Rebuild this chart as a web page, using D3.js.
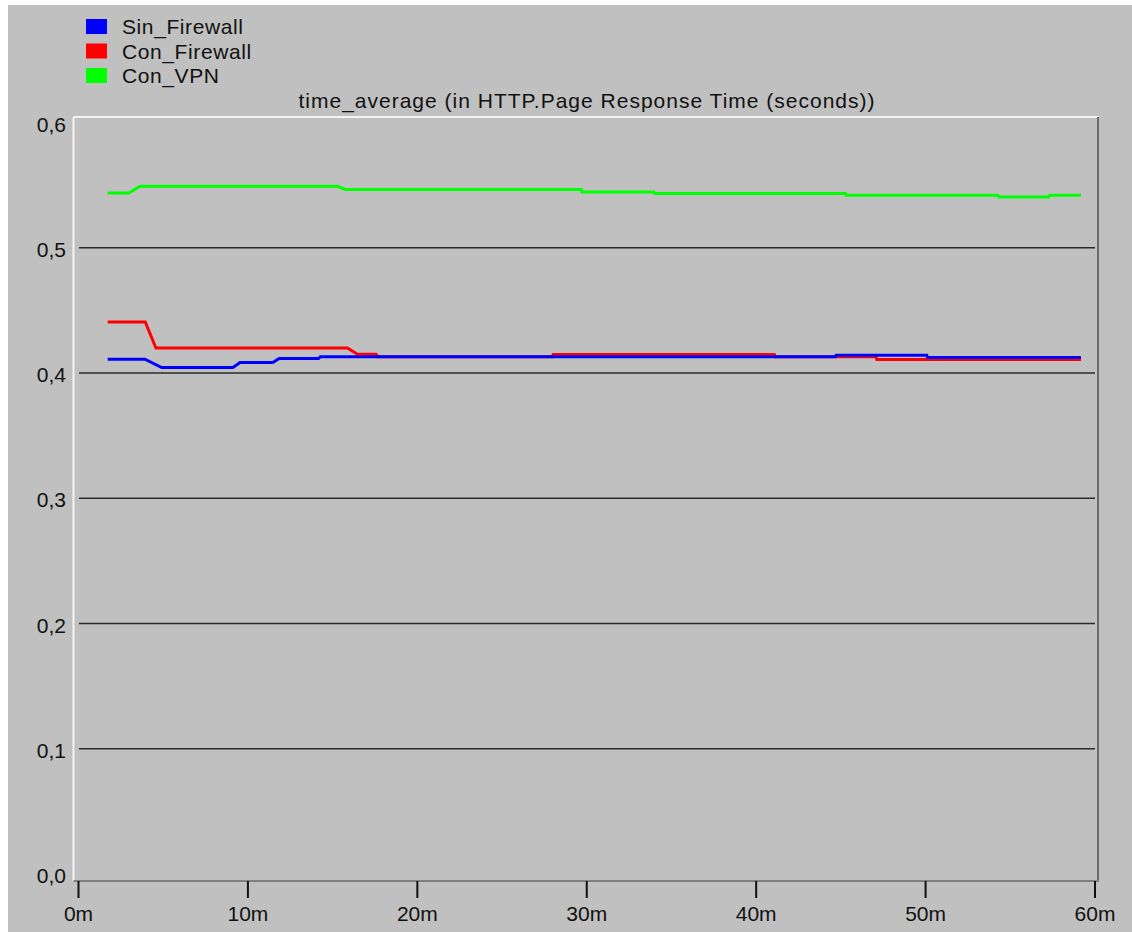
<!DOCTYPE html>
<html>
<head>
<meta charset="utf-8">
<script src="https://cdn.jsdelivr.net/npm/d3@7"></script>
<style>
  body { margin: 0; background: #fff; }
  text { font-family: "Liberation Sans", Arial, sans-serif; fill: #111; }
</style>
</head>
<body>
<div id="chart"></div>
<script>
// series names and colours
const seriesNames = ['Sin_Firewall', 'Con_Firewall', 'Con_VPN'];
const seriesColors = ['#0000ff', '#ff0000', '#00ff00'];

// time in minutes, values in seconds
const sinTime = [1.75, 3.95, 4.94, 9.15, 9.56, 11.5, 11.87, 14.2, 14.3, 44.7, 44.75, 50.1, 50.15, 59.2];
const sinVal  = [.4110, .4110, .4044, .4044, .4084, .4084, .4116, .4116, .4129, .4129, .4142, .4142, .4124, .4124];

const conTime = [1.75, 3.97, 4.6, 15.9, 16.5, 17.6, 17.7, 28.0, 28.05, 41.1, 41.15, 47.1, 47.15, 59.2];
const conVal  = [.4408, .4408, .4200, .4200, .4150, .4150, .4129, .4129, .4148, .4148, .4129, .4129, .4108, .4108];

const vpnTime = [1.75, 3.0, 3.66, 15.3, 15.8, 29.7, 29.75, 34.0, 34.05, 45.3, 45.35, 54.3, 54.35, 57.3, 57.35, 59.2];
const vpnVal  = [.5437, .5437, .5491, .5491, .5465, .5465, .5445, .5445, .5433, .5433, .5419, .5419, .5405, .5405, .5419, .5419];

const yTicks = [0, 0.1, 0.2, 0.3, 0.4, 0.5, 0.6];
const xTicks = [0, 10, 20, 30, 40, 50, 60];

const title = 'time_average (in HTTP.Page Response Time (seconds))';

var width = 1132,
    height = 932;

var svg = d3.select('#chart')
    .append('svg')
    .attr('width', width)
    .attr('height', height);

// grey window background
svg.append('rect')
    .attr('x', 8).attr('y', 5)
    .attr('width', width - 8).attr('height', height - 5)
    .attr('fill', '#c0c0c0');

var xScale = d3.scaleLinear()
    .domain([0, 60])
    .range([78, 1094.5]);

var yScale = d3.scaleLinear()
    .domain([0, 0.6])
    .range([874, 122.5]);

var frame = { left: 73.5, top: 117, right: 1098, bottom: 881 };

// grid lines
svg.append('g')
    .selectAll('line')
    .data(yTicks.filter(d => d > 0 && d < 0.6))
    .enter()
    .append('line')
    .attr('x1', 79).attr('x2', 1095)
    .attr('y1', d => yScale(d)).attr('y2', d => yScale(d))
    .attr('stroke', '#2a2a2a')
    .attr('stroke-width', 1.6);

// frame: light top/left, dark right/bottom
svg.append('line')
    .attr('x1', frame.left).attr('x2', frame.right + 1)
    .attr('y1', frame.top).attr('y2', frame.top)
    .attr('stroke', '#f4f4f4').attr('stroke-width', 2);
svg.append('line')
    .attr('x1', frame.left).attr('x2', frame.left)
    .attr('y1', frame.top).attr('y2', frame.bottom)
    .attr('stroke', '#f4f4f4').attr('stroke-width', 2);
svg.append('line')
    .attr('x1', frame.right).attr('x2', frame.right)
    .attr('y1', frame.top).attr('y2', frame.bottom)
    .attr('stroke', '#6a6a6a').attr('stroke-width', 2);
svg.append('line')
    .attr('x1', frame.left).attr('x2', frame.right + 1)
    .attr('y1', frame.bottom).attr('y2', frame.bottom)
    .attr('stroke', '#808080').attr('stroke-width', 2);

// y axis labels
var yAxis = svg.append('g')
    .attr('transform', 'translate(68,2)')
    .call(d3.axisLeft(yScale)
        .tickValues(yTicks)
        .tickSize(0)
        .tickPadding(2)
        .tickFormat(d => d.toFixed(1).replace('.', ',')));
yAxis.select('.domain').remove();
yAxis.selectAll('text')
    .style('font-size', '21px')
    .style('font-family', '"Liberation Sans", Arial, sans-serif')
    .attr('fill', '#111');

// x axis ticks and labels
var xAxis = svg.append('g')
    .attr('transform', 'translate(0,' + frame.bottom + ')')
    .call(d3.axisBottom(xScale)
        .tickValues(xTicks)
        .tickSize(17)
        .tickPadding(8)
        .tickFormat(d => d + 'm'));
xAxis.select('.domain').remove();
xAxis.selectAll('line')
    .attr('stroke', '#111')
    .attr('stroke-width', 2);
xAxis.selectAll('text')
    .style('font-size', '21px')
    .style('font-family', '"Liberation Sans", Arial, sans-serif')
    .attr('fill', '#111');

// title
svg.append('text')
    .attr('x', 587)
    .attr('y', 108)
    .attr('text-anchor', 'middle')
    .style('font-size', '21px')
    .style('letter-spacing', '1px')
    .text(title);

// lines
var seriesData = [
    { name: seriesNames[2], color: seriesColors[2], t: vpnTime, v: vpnVal },
    { name: seriesNames[1], color: seriesColors[1], t: conTime, v: conVal },
    { name: seriesNames[0], color: seriesColors[0], t: sinTime, v: sinVal }
];

var line = d3.line()
    .x(d => xScale(d[0]))
    .y(d => yScale(d[1]));

svg.append('g')
    .selectAll('path')
    .data(seriesData)
    .enter()
    .append('path')
    .attr('d', s => line(s.t.map((t, i) => [t, s.v[i]])))
    .attr('fill', 'none')
    .attr('stroke', s => s.color)
    .attr('stroke-width', 3)
    .attr('stroke-linejoin', 'miter');

// legend
var legend = svg.append('g')
    .selectAll('g')
    .data(seriesNames)
    .enter()
    .append('g')
    .attr('transform', (d, i) => 'translate(86,' + (19 + i * 24.5) + ')');

legend.append('rect')
    .attr('width', 21)
    .attr('height', 15)
    .attr('fill', (d, i) => seriesColors[i]);

legend.append('text')
    .attr('x', 36)
    .attr('y', 15)
    .style('font-size', '21px')
    .style('letter-spacing', '0.6px')
    .text(d => d);
</script>
</body>
</html>
